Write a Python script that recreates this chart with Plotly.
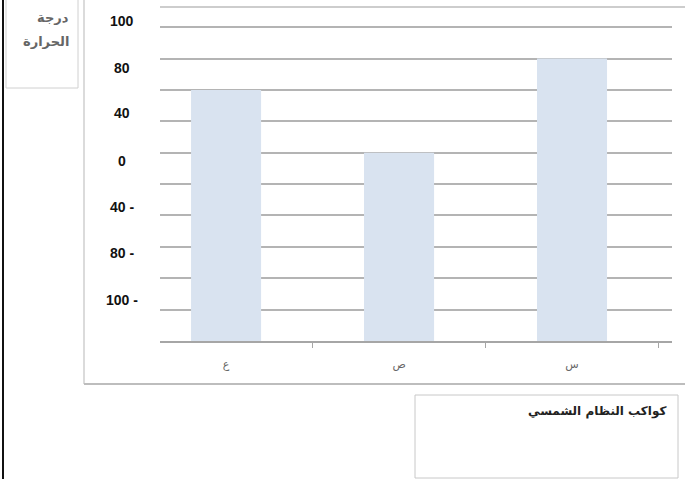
import plotly.graph_objects as go

# Data
planets = ["ع", "ص", "س"]
values = [8, 6, 9]            # bar heights in gridline units
tick_labels = ["100", "80", "40", "0", "40 -", "80 -", "100 -"]
tick_positions = [10.2, 8.7, 7.25, 5.73, 4.27, 2.8, 1.3]
y_title_lines = ["درجة", "الحرارة"]
legend_title = "كواكب النظام الشمسي"

W, H = 685, 479
L, R, T, B = 160, 13, 24, 138
YMAX = 10.1

fig = go.Figure()
fig.add_trace(go.Bar(
    x=planets, y=values, width=0.405,
    marker=dict(color="#d9e3f0", line=dict(width=0)),
    showlegend=False, hoverinfo="skip",
))

fig.update_layout(
    width=W, height=H,
    margin=dict(l=L, r=R, t=T, b=B, pad=0),
    paper_bgcolor="white", plot_bgcolor="white",
    font=dict(family="DejaVu Sans, Liberation Sans, Arial", color="#333"),
    xaxis=dict(
        type="category", range=[-0.382, 2.578],
        showline=True, linecolor="#a6a6a6", linewidth=1.5,
        ticks="outside", ticklen=5, tickcolor="#a6a6a6", tickson="boundaries",
        tickfont=dict(size=11, color="#666"), showgrid=False, ticklabelstandoff=12,
    ),
    yaxis=dict(
        range=[0, YMAX], dtick=1, showgrid=True, gridcolor="#b4b4b4", gridwidth=1.6,
        showticklabels=False, zeroline=False, showline=False, ticks="",
    ),
    bargap=0.59,
)

def px_x(px):
    return (px - L) / (W - L - R)

def px_y(py):
    return (H - B - py) / (H - T - B)

# y tick labels (centered text column)
for pos, txt in zip(tick_positions, tick_labels):
    fig.add_annotation(x=px_x(122), xref="paper", y=pos / YMAX, yref="paper",
                       text=f"<b>{txt}</b>", showarrow=False, xanchor="center", yanchor="middle",
                       font=dict(family="Liberation Sans, Arial", size=14, color="#111"))

shapes = []
# black left border line
shapes.append(dict(type="line", xref="paper", yref="paper", x0=px_x(3), x1=px_x(3), y0=px_y(0), y1=px_y(479),
                   line=dict(color="#111", width=2)))
# outer chart frame (left & bottom)
shapes.append(dict(type="line", xref="paper", yref="paper", x0=px_x(84), x1=px_x(84), y0=px_y(0), y1=px_y(384),
                   line=dict(color="#cfcfcf", width=1.5)))
shapes.append(dict(type="line", xref="paper", yref="paper", x0=px_x(84), x1=px_x(685), y0=px_y(384), y1=px_y(384),
                   line=dict(color="#bdbdbd", width=2)))
# top line
shapes.append(dict(type="line", xref="paper", yref="paper", x0=px_x(160), x1=px_x(685), y0=px_y(7), y1=px_y(7),
                   line=dict(color="#bdbdbd", width=1.5)))
# y title box
shapes.append(dict(type="rect", xref="paper", yref="paper", x0=px_x(6), x1=px_x(78), y0=px_y(88), y1=px_y(-2),
                   line=dict(color="#d0d0d0", width=1)))
# legend box
shapes.append(dict(type="rect", xref="paper", yref="paper", x0=px_x(415), x1=px_x(678), y0=px_y(478), y1=px_y(395),
                   line=dict(color="#c8c8c8", width=1)))
fig.update_layout(shapes=shapes)

for i, line in enumerate(y_title_lines):
    fig.add_annotation(x=px_x(71), y=px_y(18 + 24 * i), xref="paper", yref="paper", text=f"<b>{line}</b>",
                       showarrow=False, xanchor="right", yanchor="middle", align="right",
                       font=dict(size=13, color="#666"))
fig.add_annotation(x=px_x(668), y=px_y(411), xref="paper", yref="paper", text=f"<b>{legend_title}</b>",
                   showarrow=False, xanchor="right", yanchor="middle", align="right",
                   font=dict(size=12, color="#222"))

fig.write_html("out.html")
